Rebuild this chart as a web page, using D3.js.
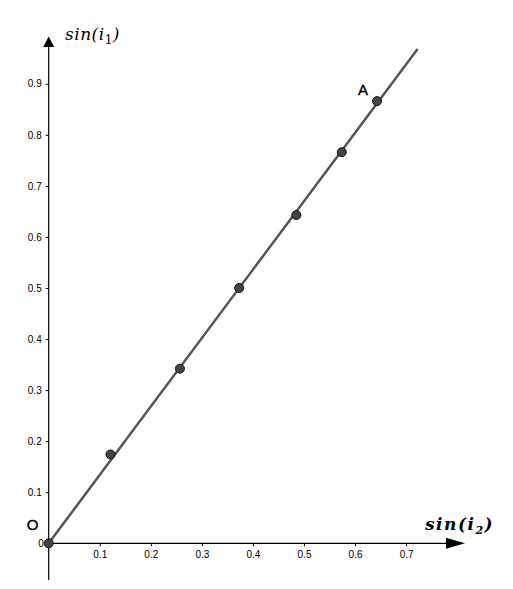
<html>
<head>
    <script src="https://d3js.org/d3.v7.min.js"></script>
    <title>sin(i1) vs sin(i2)</title>
</head>
<style>
    body { margin: 0; background: white; }
    .tick text { font: 10px "Liberation Sans", Arial, sans-serif; fill: #000; }
    .tick line { stroke: #000; }
</style>
<body>
<div id="chart"></div>
<script>
    // measured points (sin i2, sin i1)
    const sinI2 = [0, 0.121, 0.257, 0.373, 0.485, 0.574, 0.643];
    const sinI1 = [0, 0.174, 0.342, 0.5, 0.643, 0.766, 0.866];
    const pointNames = ["O", "", "", "", "", "", "A"];
    const xTicks = [0.1, 0.2, 0.3, 0.4, 0.5, 0.6, 0.7];
    const yTicks = [0.1, 0.2, 0.3, 0.4, 0.5, 0.6, 0.7, 0.8, 0.9];
    // fitted line through the origin
    const lineSlope = [1.34];
    const lineXEnd = [0.7225];

    const width = 513, height = 589;

    const svg = d3.select("#chart").append("svg")
        .attr("width", width)
        .attr("height", height);

    // same scale on both axes
    const unit = 510.6;
    const ox = 48.7, oy = 543.3;
    const xScale = d3.scaleLinear().domain([0, 1]).range([ox, ox + unit]);
    const yScale = d3.scaleLinear().domain([0, 1]).range([oy, oy - unit]);

    // axis lines with arrow heads
    svg.append("line")
        .attr("x1", ox).attr("x2", 452).attr("y1", oy).attr("y2", oy)
        .attr("stroke", "#000").attr("stroke-width", 1.2);
    svg.append("path")
        .attr("d", `M465,${oy} L446,${oy - 5.5} L446,${oy + 5.5} Z`)
        .attr("fill", "#000");

    svg.append("line")
        .attr("x1", ox).attr("x2", ox).attr("y1", 580).attr("y2", 45)
        .attr("stroke", "#000").attr("stroke-width", 1.2);
    svg.append("path")
        .attr("d", `M${ox},36.5 L${ox - 5.5},47 L${ox + 5.5},47 Z`)
        .attr("fill", "#000");

    // ticks
    const xAxis = svg.append("g")
        .attr("transform", `translate(0, ${oy})`)
        .call(d3.axisBottom(xScale).tickValues(xTicks).tickSize(3).tickSizeOuter(0).tickPadding(5)
            .tickFormat(d3.format(".1f")));
    xAxis.select(".domain").remove();

    const yAxis = svg.append("g")
        .attr("transform", `translate(${ox}, 0)`)
        .call(d3.axisLeft(yScale).tickValues(yTicks).tickSize(3).tickSizeOuter(0).tickPadding(4)
            .tickFormat(d3.format(".1f")));
    yAxis.select(".domain").remove();

    svg.append("text")
        .attr("x", ox - 5).attr("y", oy + 3.5)
        .attr("text-anchor", "end")
        .style("font", '10px "Liberation Sans", Arial, sans-serif')
        .text("0");

    // axis titles
    const yTitle = svg.append("text")
        .attr("x", 65).attr("y", 40)
        .style("font", 'italic 17px "DejaVu Serif", serif')
        .style("letter-spacing", "0.5px");
    yTitle.append("tspan").text("sin(i");
    yTitle.append("tspan").attr("font-size", "12px").attr("font-style", "normal").attr("dy", 4).text("1");
    yTitle.append("tspan").attr("dy", -4).text(")");

    const xTitle = svg.append("text")
        .attr("x", 425).attr("y", 530)
        .style("font", 'italic bold 17px "DejaVu Serif", serif')
        .style("letter-spacing", "1.5px");
    xTitle.append("tspan").text("sin(i");
    xTitle.append("tspan").attr("font-size", "11px").attr("dy", 4).text("2");
    xTitle.append("tspan").attr("dy", -4).text(")");

    // fitted line
    svg.append("line")
        .attr("x1", xScale(0)).attr("y1", yScale(0))
        .attr("x2", xScale(lineXEnd[0])).attr("y2", yScale(lineXEnd[0] * lineSlope[0]))
        .attr("stroke", "#555").attr("stroke-width", 2.5);

    // points
    const pts = sinI2.map((v, i) => ({x: v, y: sinI1[i], name: pointNames[i]}));
    svg.selectAll("circle.pt").data(pts).enter().append("circle")
        .attr("class", "pt")
        .attr("cx", d => xScale(d.x))
        .attr("cy", d => yScale(d.y))
        .attr("r", 4.5)
        .attr("fill", "#444")
        .attr("stroke", "#111")
        .attr("stroke-width", 1);

    // labels: O sits left/above the origin, A left/above its point
    svg.selectAll("text.pname").data(pts.filter(d => d.name)).enter().append("text")
        .attr("class", "pname")
        .attr("x", d => xScale(d.x) - (d.name === "O" ? 22 : 19))
        .attr("y", d => yScale(d.y) - (d.name === "O" ? 13 : 6))
        .style("font", '15px "Liberation Sans", Arial, sans-serif')
        .style("stroke", "#000").style("stroke-width", 0.4)
        .text(d => d.name);
</script>
</body>
</html>
